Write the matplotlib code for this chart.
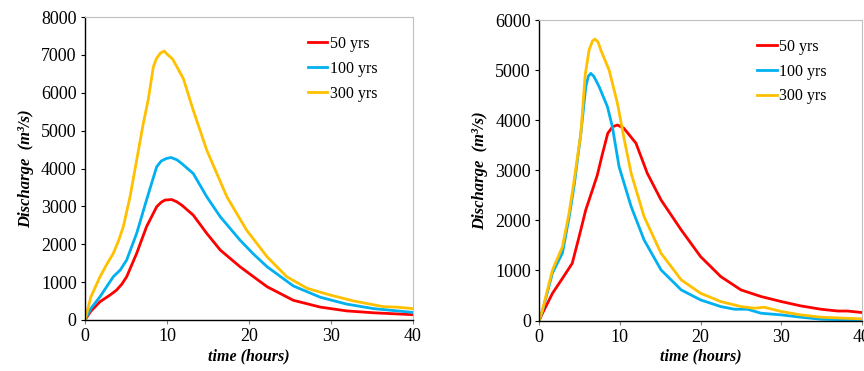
import numpy as np
import matplotlib.pyplot as plt

plt.rcParams['font.family'] = ['Liberation Serif', 'DejaVu Serif']

# left panel
tL_50 = [0, 0.7, 1.83, 3.05, 3.86, 4.5, 5.08, 6.3, 7.5, 8.74, 9.3, 9.76, 10.57, 11.2, 11.8, 13.2, 14.85, 16.5, 18.9, 20.5, 22.2, 25.4, 28.7, 31.9, 35.2, 40]
qL_50 = [0, 230, 483, 659, 792, 950, 1143, 1760, 2463, 2991, 3110, 3168, 3180, 3120, 3033, 2769, 2286, 1846, 1407, 1150, 879, 520, 340, 240, 190, 140]
tL_100 = [0, 0.7, 1.83, 3.45, 4.3, 5.08, 6.3, 7.5, 8.74, 9.3, 9.96, 10.5, 11.2, 11.8, 13.2, 14.85, 16.5, 18.9, 20.5, 22.2, 25.4, 28.7, 31.9, 35.2, 40]
qL_100 = [0, 300, 615, 1143, 1320, 1584, 2288, 3168, 4047, 4200, 4268, 4290, 4230, 4132, 3868, 3253, 2725, 2110, 1750, 1407, 900, 600, 420, 300, 200]
tL_300 = [0, 0.7, 1.83, 2.6, 3.45, 4.1, 4.67, 5.49, 6.3, 7.11, 7.7, 8.33, 8.7, 9.2, 9.67, 10.1, 10.65, 11.3, 12.0, 13.2, 14.85, 17.3, 19.7, 22.2, 24.6, 27.1, 29.9, 32.8, 36.4, 38, 40]
qL_300 = [0, 600, 1143, 1450, 1760, 2100, 2463, 3255, 4224, 5193, 5808, 6680, 6900, 7050, 7102, 7000, 6900, 6650, 6370, 5538, 4484, 3253, 2374, 1670, 1143, 835, 659, 500, 352, 340, 300]

# right panel
tR_50 = [0, 0.41, 1.65, 2.89, 4.1, 4.95, 5.77, 6.6, 7.2, 7.8, 8.5, 9.1, 9.7, 10.5, 11.2, 12.0, 13.4, 15.1, 17.6, 20.0, 22.5, 25.0, 27.5, 30.0, 32.4, 34.9, 37, 38.2, 40]
qR_50 = [0, 144, 543, 843, 1142, 1673, 2206, 2606, 2900, 3300, 3738, 3870, 3904, 3838, 3700, 3539, 2940, 2408, 1809, 1277, 878, 612, 479, 379, 293, 226, 190, 190, 160]
tR_100 = [0, 0.41, 1.65, 2.89, 3.7, 4.34, 5.17, 5.78, 6.1, 6.4, 6.8, 7.43, 8.46, 9.07, 9.9, 11.4, 13.0, 15.1, 17.6, 20.0, 22.5, 24.2, 25.8, 27.5, 30.0, 32.4, 34.9, 40]
qR_100 = [0, 190, 950, 1350, 2050, 2700, 3738, 4670, 4880, 4935, 4870, 4670, 4270, 3870, 3073, 2275, 1610, 1011, 612, 412, 279, 226, 226, 146, 113, 67, 27, 7]
tR_300 = [0, 0.41, 1.65, 2.89, 3.7, 4.34, 5.17, 5.7, 6.19, 6.6, 6.93, 7.3, 7.64, 8.67, 9.7, 10.5, 11.4, 13.0, 15.1, 17.6, 20.0, 22.5, 25.0, 26.65, 27.9, 30.0, 32.4, 34.9, 40]
qR_300 = [0, 210, 1008, 1474, 2140, 2800, 3738, 4900, 5400, 5580, 5620, 5560, 5400, 5000, 4337, 3650, 2940, 2075, 1344, 812, 545, 379, 279, 246, 266, 180, 113, 67, 33]

labels = ['50 yrs', '100 yrs', '300 yrs']
colors = ['#FF0000', '#00B0F0', '#FFC000']

fig = plt.figure(figsize=(8.64, 3.71), dpi=100)
ax1 = fig.add_axes([0.0984, 0.1375, 0.3796, 0.8165])
ax2 = fig.add_axes([0.624, 0.136, 0.3737, 0.81])

panels = [
    (ax1, [(tL_50, qL_50), (tL_100, qL_100), (tL_300, qL_300)], 8000, 1000),
    (ax2, [(tR_50, qR_50), (tR_100, qR_100), (tR_300, qR_300)], 6000, 1000),
]

for ax, series, ymax, ystep in panels:
    for (t, q), lab, c in zip(series, labels, colors):
        ax.plot(t, q, color=c, lw=2.0, label=lab, solid_joinstyle='round')
    ax.set_xlim(0, 40)
    ax.set_ylim(0, ymax)
    ax.set_xticks(np.arange(0, 41, 10))
    ax.set_yticks(np.arange(0, ymax + 1, ystep))
    ax.tick_params(labelsize=13, length=3, width=0.8, direction='out', pad=3)
    ax.tick_params(axis='x', color='#808080')
    for s in ['top', 'right']:
        ax.spines[s].set_color('#bfbfbf')
        ax.spines[s].set_linewidth(0.8)
    for s in ['left', 'bottom']:
        ax.spines[s].set_linewidth(1.0)
    ax.set_xlabel('time (hours)', fontsize=11.5, fontweight='bold', fontstyle='italic', labelpad=2)
    ax.set_ylabel('Discharge  (m³/s)', fontsize=12, fontweight='bold', fontstyle='italic', labelpad=5)
    ax.legend(loc='upper right', frameon=False, fontsize=11.5, handlelength=1.2,
              handletextpad=0.15, labelspacing=0.55, bbox_to_anchor=(0.935, 0.985))

fig.savefig('out.png', dpi=100)
